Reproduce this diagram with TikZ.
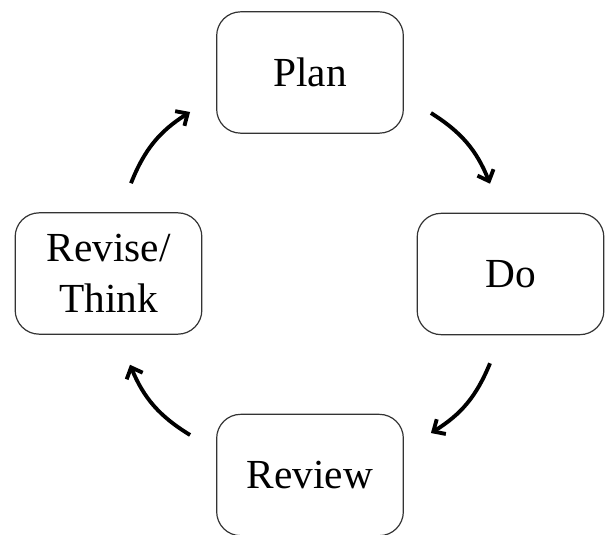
\documentclass[tikz,border=0pt]{standalone}
\usepackage{fontspec}
\setmainfont{Liberation Serif}
\usepackage{tikz}
\usetikzlibrary{positioning,calc,arrows.meta}

\begin{document}
\begin{tikzpicture}[x=0.75pt, y=0.75pt, auto,
        block/.style={rectangle, draw=black!80, line width=0.9pt, rounded corners=18pt, minimum width=140pt, minimum height=91pt, inner sep=0pt, align=center, font=\fontsize{31}{38}\selectfont},
        line/.style={draw, -{Straight Barb[length=7pt, width=13pt]}, line width=2.9pt, bend left=18}]

        \clip (0,0) rectangle (605,-534);
        \useasboundingbox (0,0) rectangle (605,-534);

        \node [block] (plan) at (310,-72.5) {Plan};
        \node [block] (do) at (510.5,-274) {Do};
        \node [block] (review) at (310,-475) {Review};
        \node [block] (revise) at (108.5,-273.5) {Revise/\\Think};

        \draw [line] ($(plan.east)+(27,-40.5)$) to ($(do.north)+(-20.5,29)$);
        \draw [line] ($(do.south)+(-20.5,-28)$) to ($(review.east)+(27,42)$);
        \draw [line] ($(review.west)+(-26,40)$) to ($(revise.south)+(21.5,-30)$);
        \draw [line] ($(revise.north)+(22.5,29)$) to ($(plan.west)+(-26,-39.5)$);

    \end{tikzpicture}
\end{document}
